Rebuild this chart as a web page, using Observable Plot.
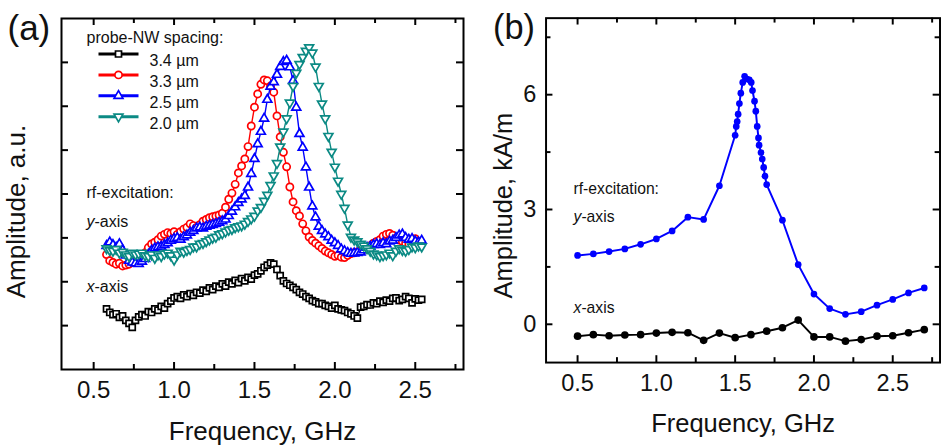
<!DOCTYPE html>
<html><head><meta charset="utf-8">
<script src="https://cdn.jsdelivr.net/npm/d3@7"></script>
<script src="https://cdn.jsdelivr.net/npm/@observablehq/plot@0.6"></script>
<style>
html,body{margin:0;padding:0;overflow:hidden;background:#fff;width:941px;height:446px;font-family:"Liberation Sans",Arial,sans-serif}
#wrap{position:relative;width:941px;height:446px;overflow:hidden}
#pa{position:absolute;left:0;top:0}
#pb{position:absolute;left:470px;top:0}
</style></head><body><div id="wrap"><div id="pa"></div><div id="pb"></div></div>
<script>
// ---------- Panel (a) data: frequency (GHz) and amplitude (a.u.) ----------
const freqA = [
0.58,0.60,0.62,0.64,0.66,0.68,0.70,0.72,0.74,0.76,
0.78,0.80,0.82,0.84,0.86,0.88,0.90,0.92,0.94,0.96,
0.98,1.00,1.02,1.04,1.06,1.08,1.10,1.12,1.14,1.16,
1.18,1.20,1.22,1.24,1.26,1.28,1.30,1.32,1.34,1.36,
1.38,1.40,1.42,1.44,1.46,1.48,1.50,1.52,1.54,1.56,
1.58,1.60,1.62,1.64,1.66,1.68,1.70,1.72,1.74,1.76,
1.78,1.80,1.82,1.84,1.86,1.88,1.90,1.92,1.94,1.96,
1.98,2.00,2.02,2.04,2.06,2.08,2.10,2.12,2.14,2.16,
2.18,2.20,2.22,2.24,2.26,2.28,2.30,2.32,2.34,2.36,
2.38,2.40,2.42,2.44,2.46,2.48,2.50,2.52,2.54];
// 3.4 um, x-axis excitation (black squares)
const amp34 = [
1.38,1.30,1.25,1.27,1.19,1.22,1.12,1.05,0.96,1.12,
1.20,1.25,1.22,1.32,1.30,1.38,1.35,1.44,1.40,1.50,
1.56,1.63,1.66,1.62,1.70,1.66,1.73,1.69,1.76,1.74,
1.81,1.78,1.86,1.82,1.90,1.87,1.95,1.90,1.99,1.95,
2.03,1.98,2.07,2.02,2.10,2.06,2.15,2.18,2.25,2.33,
2.38,2.43,2.40,2.28,2.14,2.02,1.96,1.92,1.87,1.82,
1.76,1.72,1.66,1.62,1.57,1.54,1.50,1.50,1.46,1.44,
1.40,1.46,1.38,1.36,1.34,1.30,1.27,1.22,1.17,1.42,
1.44,1.48,1.47,1.52,1.50,1.56,1.53,1.58,1.56,1.62,
1.63,1.57,1.60,1.66,1.62,1.52,1.61,1.58,1.60];
// 3.3 um (red circles)
const amp33 = [
2.62,2.48,2.44,2.40,2.42,2.36,2.38,2.40,2.44,2.48,
2.55,2.60,2.66,2.78,2.86,2.90,2.96,3.04,3.08,3.12,
3.10,3.14,3.08,3.14,3.20,3.24,3.32,3.28,3.24,3.30,
3.38,3.42,3.46,3.48,3.50,3.52,3.56,3.70,3.88,4.02,
4.22,4.48,4.64,4.80,5.08,5.55,5.98,6.28,6.50,6.60,
6.58,6.46,6.32,5.78,5.30,4.95,4.62,4.16,3.82,3.62,
3.50,3.32,3.16,3.02,2.94,2.88,2.82,2.76,2.70,2.66,
2.62,2.58,2.60,2.56,2.55,2.60,2.64,2.66,2.68,2.72,
2.74,2.78,2.82,2.88,2.92,2.96,3.04,3.08,3.10,3.06,
3.00,2.95,2.92,2.88,2.86,2.94,2.98,2.92,2.88];
// 2.5 um (blue up-triangles)
const amp25 = [
2.82,2.90,2.84,2.78,2.86,2.72,2.60,2.48,2.44,2.42,
2.41,2.46,2.52,2.62,2.71,2.76,2.79,2.80,2.84,2.88,
2.94,2.98,3.00,2.96,3.02,3.06,3.12,3.16,3.22,3.24,
3.22,3.26,3.28,3.30,3.32,3.35,3.38,3.42,3.50,3.60,
3.70,3.80,3.88,3.96,4.15,4.46,4.80,5.14,5.42,5.72,
6.15,6.45,6.55,6.72,6.90,7.01,7.04,6.89,6.58,5.97,
5.37,5.06,4.61,4.15,3.72,3.47,3.26,3.16,3.08,3.02,
2.94,2.88,2.82,2.74,2.70,2.66,2.64,2.65,2.66,2.67,
2.72,2.78,2.80,2.84,2.86,2.84,2.88,2.86,2.92,2.94,
3.00,3.06,3.08,3.00,2.96,2.98,2.92,2.90,2.94];
// 2.0 um (teal down-triangles)
const amp20 = [
2.76,2.72,2.70,2.74,2.66,2.68,2.62,2.58,2.66,2.62,
2.64,2.66,2.60,2.58,2.62,2.54,2.62,2.58,2.64,2.66,
2.60,2.50,2.62,2.70,2.68,2.72,2.74,2.80,2.80,2.86,
2.88,2.92,2.96,3.00,3.02,3.08,3.10,3.14,3.18,3.20,
3.24,3.26,3.28,3.32,3.38,3.44,3.50,3.62,3.70,3.84,
3.98,4.20,4.42,4.70,5.08,5.42,5.72,6.08,6.46,6.76,
6.96,7.12,7.26,7.34,7.22,6.90,6.46,6.06,5.72,5.32,
4.96,4.62,4.30,4.00,3.68,3.30,3.02,2.96,2.92,2.86,
2.82,2.76,2.70,2.64,2.62,2.58,2.60,2.62,2.66,2.60,
2.70,2.76,2.72,2.70,2.74,2.80,2.78,2.82,2.80];

const seriesLabels = ["3.4 µm","3.3 µm","2.5 µm","2.0 µm"];
const seriesColors = ["#000000","#ff0000","#0000ff","#0b8a84"];

// ---------- Panel (b) data: frequency (GHz) and amplitude (kA/m) ----------
const freqBy = [0.5,0.6,0.7,0.8,0.9,1.0,1.1,1.2,1.3,1.4,
1.500,1.507,1.513,1.519,1.527,1.536,1.548,1.560,1.575,1.590,1.602,1.610,
1.623,1.631,1.640,1.648,1.652,1.664,1.672,1.681,1.689,1.700,
1.8,1.9,2.0,2.1,2.2,2.3,2.4,2.5,2.6,2.7];
const ampBy = [1.80,1.84,1.90,1.97,2.09,2.23,2.44,2.80,2.74,3.62,
4.94,5.17,5.30,5.49,5.77,6.04,6.32,6.48,6.41,6.39,6.32,6.11,
5.83,5.57,5.17,4.87,4.68,4.49,4.32,4.10,3.87,3.65,
2.72,1.56,0.79,0.41,0.26,0.33,0.50,0.65,0.82,0.95];
const freqBx = [0.5,0.6,0.7,0.8,0.9,1.0,1.1,1.2,1.3,1.4,1.5,1.6,1.7,1.8,1.9,2.0,2.1,2.2,2.3,2.4,2.5,2.6,2.7];
const ampBx = [-0.31,-0.27,-0.30,-0.28,-0.27,-0.23,-0.21,-0.22,-0.42,-0.23,-0.35,-0.27,-0.18,-0.09,0.11,-0.33,-0.33,-0.44,-0.40,-0.31,-0.30,-0.22,-0.14];

// ---------- ticks ----------
const xMajor = [0.5,1.0,1.5,2.0,2.5];
const xMinor = [0.75,1.25,1.75,2.25,2.75];
const yTicksA = [1,2,3,4,5,6,7];
const yMajorB = [0,3,6];
const yMinorB = [1.5,4.5,7.5];

const FONT = "Liberation Sans, Arial, sans-serif";
const triDown = {draw(ctx, size){const y=Math.sqrt(size/(3*Math.sqrt(3)));ctx.moveTo(0,2*y);ctx.lineTo(-Math.sqrt(3)*y,-y);ctx.lineTo(Math.sqrt(3)*y,-y);ctx.closePath();}};
const legLine = {draw(ctx){ctx.moveTo(-20,0);ctx.lineTo(20,0);}};
const symbols = ["square","circle","triangle",triDown];
const symR = [3.4,3.6,3.3,3.3];

function rows(f, v){return f.map((x,i)=>({f:x, v:v[i]}));}
const dataA = [amp34,amp33,amp25,amp20].map(v=>rows(freqA,v));

function tickMarks(H, W, xMaj, xMin, yMaj, yMin){
  const M=7, m=5, s={stroke:"black", strokeWidth:2};
  const out=[];
  out.push(Plot.tickX(xMaj,{x:d=>d, insetTop:H-M, ...s}));
  out.push(Plot.tickX(xMaj,{x:d=>d, insetBottom:H-M, ...s}));
  if (xMin.length){
    out.push(Plot.tickX(xMin,{x:d=>d, insetTop:H-m, ...s}));
    out.push(Plot.tickX(xMin,{x:d=>d, insetBottom:H-m, ...s}));
  }
  out.push(Plot.tickY(yMaj,{y:d=>d, insetRight:W-M, ...s}));
  out.push(Plot.tickY(yMaj,{y:d=>d, insetLeft:W-M, ...s}));
  if (yMin.length){
    out.push(Plot.tickY(yMin,{y:d=>d, insetRight:W-m, ...s}));
    out.push(Plot.tickY(yMin,{y:d=>d, insetLeft:W-m, ...s}));
  }
  return out;
}

// ---------- Panel (a) ----------
{
  const W=470, H=446, mL=61, mR=7, mT=18, mB=77;
  const fw=W-mL-mR, fh=H-mT-mB;
  const marks=[];
  dataA.forEach((d,i)=>{
    marks.push(Plot.line(d,{x:"f",y:"v",stroke:seriesColors[i],strokeWidth:1.4}));
    marks.push(Plot.dot(d,{x:"f",y:"v",symbol:symbols[i],r:symR[i],stroke:seriesColors[i],fill:"white",strokeWidth:1.7}));
  });
  // legend
  const t = {fontFamily:FONT, fill:"#111"};
  marks.push(Plot.text(["probe-NW spacing:"],{text:d=>d,frameAnchor:"top-left",dx:25,dy:24,textAnchor:"start",lineAnchor:"bottom",fontSize:16,...t}));
  seriesLabels.forEach((lab,i)=>{
    const dy = 35.5 + 20.9*i;
    marks.push(Plot.dot([lab],{frameAnchor:"top-left",dx:57,dy,symbol:legLine,stroke:seriesColors[i],fill:"none",strokeWidth:3}));
    marks.push(Plot.dot([lab],{frameAnchor:"top-left",dx:57,dy,symbol:symbols[i],r:symR[i],stroke:seriesColors[i],fill:"white",strokeWidth:1.7}));
    marks.push(Plot.text([lab],{text:d=>d,frameAnchor:"top-left",dx:88,dy:dy+1,textAnchor:"start",fontSize:16,...t}));
  });
  marks.push(Plot.text(["rf-excitation:"],{text:d=>d,frameAnchor:"top-left",dx:25,dy:179,textAnchor:"start",lineAnchor:"bottom",fontSize:16,...t}));
  marks.push(Plot.text(["y"],{text:d=>d,frameAnchor:"top-left",dx:25,dy:208,textAnchor:"start",lineAnchor:"bottom",fontSize:16,fontStyle:"italic",...t}));
  marks.push(Plot.text(["-axis"],{text:d=>d,frameAnchor:"top-left",dx:33,dy:208,textAnchor:"start",lineAnchor:"bottom",fontSize:16,...t}));
  marks.push(Plot.text(["x"],{text:d=>d,frameAnchor:"top-left",dx:25,dy:273,textAnchor:"start",lineAnchor:"bottom",fontSize:16,fontStyle:"italic",...t}));
  marks.push(Plot.text(["-axis"],{text:d=>d,frameAnchor:"top-left",dx:33,dy:273,textAnchor:"start",lineAnchor:"bottom",fontSize:16,...t}));
  // axes
  marks.push(...tickMarks(fh, fw, xMajor, xMinor, yTicksA, []));
  marks.push(Plot.frame({stroke:"black",strokeWidth:2}));
  marks.push(Plot.text(xMajor,{x:d=>d,text:d=>d.toFixed(1),frameAnchor:"bottom",dy:11.5,lineAnchor:"top",fontSize:24,fontFamily:FONT,fill:"#111"}));
  marks.push(Plot.text(["Frequency, GHz"],{text:d=>d,frameAnchor:"bottom",dy:70,lineAnchor:"bottom",fontSize:26,fontFamily:FONT,fill:"#111"}));
  marks.push(Plot.text(["Amplitude, a.u."],{text:d=>d,frameAnchor:"left",dx:-37,dy:17.5,rotate:-90,textAnchor:"middle",lineAnchor:"bottom",fontSize:26,fontFamily:FONT,fill:"#111"}));
  marks.push(Plot.text(["(a)"],{text:d=>d,frameAnchor:"top-left",dx:-54,dy:21.5,textAnchor:"start",lineAnchor:"bottom",fontSize:35,fontFamily:FONT,fill:"#111"}));
  const p = Plot.plot({width:W,height:H,marginLeft:mL,marginRight:mR,marginTop:mT,marginBottom:mB,
    x:{domain:[0.3,2.8],axis:null}, y:{domain:[0,8],axis:null},
    style:{fontFamily:FONT,background:"white",overflow:"visible"}, marks});
  document.getElementById("pa").appendChild(p);
}

// ---------- Panel (b) ----------
{
  const W=480, H=446, mL=77, mR=1.5, mT=18, mB=77;
  const fw=W-mL-mR, fh=H-mT-mB;
  const dy_ = rows(freqBy, ampBy), dx_ = rows(freqBx, ampBx);
  const t = {fontFamily:FONT, fill:"#111"};
  const marks=[
    Plot.line(dx_,{x:"f",y:"v",stroke:"black",strokeWidth:2}),
    Plot.dot(dx_,{x:"f",y:"v",r:3.9,fill:"black"}),
    Plot.line(dy_,{x:"f",y:"v",stroke:"#0000ff",strokeWidth:2}),
    Plot.dot(dy_,{x:"f",y:"v",r:3.4,fill:"#0000ff"}),
    Plot.text(["rf-excitation:"],{text:d=>d,frameAnchor:"top-left",dx:28,dy:179.5,textAnchor:"start",lineAnchor:"bottom",fontSize:16,...t}),
    Plot.text(["y"],{text:d=>d,frameAnchor:"top-left",dx:28,dy:208,textAnchor:"start",lineAnchor:"bottom",fontSize:16,fontStyle:"italic",...t}),
    Plot.text(["-axis"],{text:d=>d,frameAnchor:"top-left",dx:36,dy:208,textAnchor:"start",lineAnchor:"bottom",fontSize:16,...t}),
    Plot.text(["x"],{text:d=>d,frameAnchor:"top-left",dx:28,dy:300,textAnchor:"start",lineAnchor:"bottom",fontSize:16,fontStyle:"italic",...t}),
    Plot.text(["-axis"],{text:d=>d,frameAnchor:"top-left",dx:36,dy:300,textAnchor:"start",lineAnchor:"bottom",fontSize:16,...t}),
    ...tickMarks(fh, fw, xMajor, xMinor, yMajorB, yMinorB),
    Plot.frame({stroke:"black",strokeWidth:2}),
    Plot.text(xMajor,{x:d=>d,text:d=>d.toFixed(1),frameAnchor:"bottom",dy:12,lineAnchor:"top",fontSize:24,...t}),
    Plot.text(yMajorB,{y:d=>d,text:d=>String(d),frameAnchor:"left",dx:-10,textAnchor:"end",fontSize:24,...t}),
    Plot.text(["Frequency, GHz"],{text:d=>d,frameAnchor:"bottom",dy:70.5,lineAnchor:"bottom",fontSize:26,...t}),
    Plot.text(["Amplitude, kA/m"],{text:d=>d,frameAnchor:"left",dx:-35,dy:15.5,rotate:-90,textAnchor:"middle",lineAnchor:"bottom",fontSize:26,...t}),
    Plot.text(["(b)"],{text:d=>d,frameAnchor:"top-left",dx:-54,dy:21.5,textAnchor:"start",lineAnchor:"bottom",fontSize:35,...t})
  ];
  const p = Plot.plot({width:W,height:H,marginLeft:mL,marginRight:mR,marginTop:mT,marginBottom:mB,
    x:{domain:[0.3,2.8],axis:null}, y:{domain:[-1,8],axis:null},
    style:{fontFamily:FONT,background:"white",overflow:"visible"}, marks});
  document.getElementById("pb").appendChild(p);
}
</script></body></html>
